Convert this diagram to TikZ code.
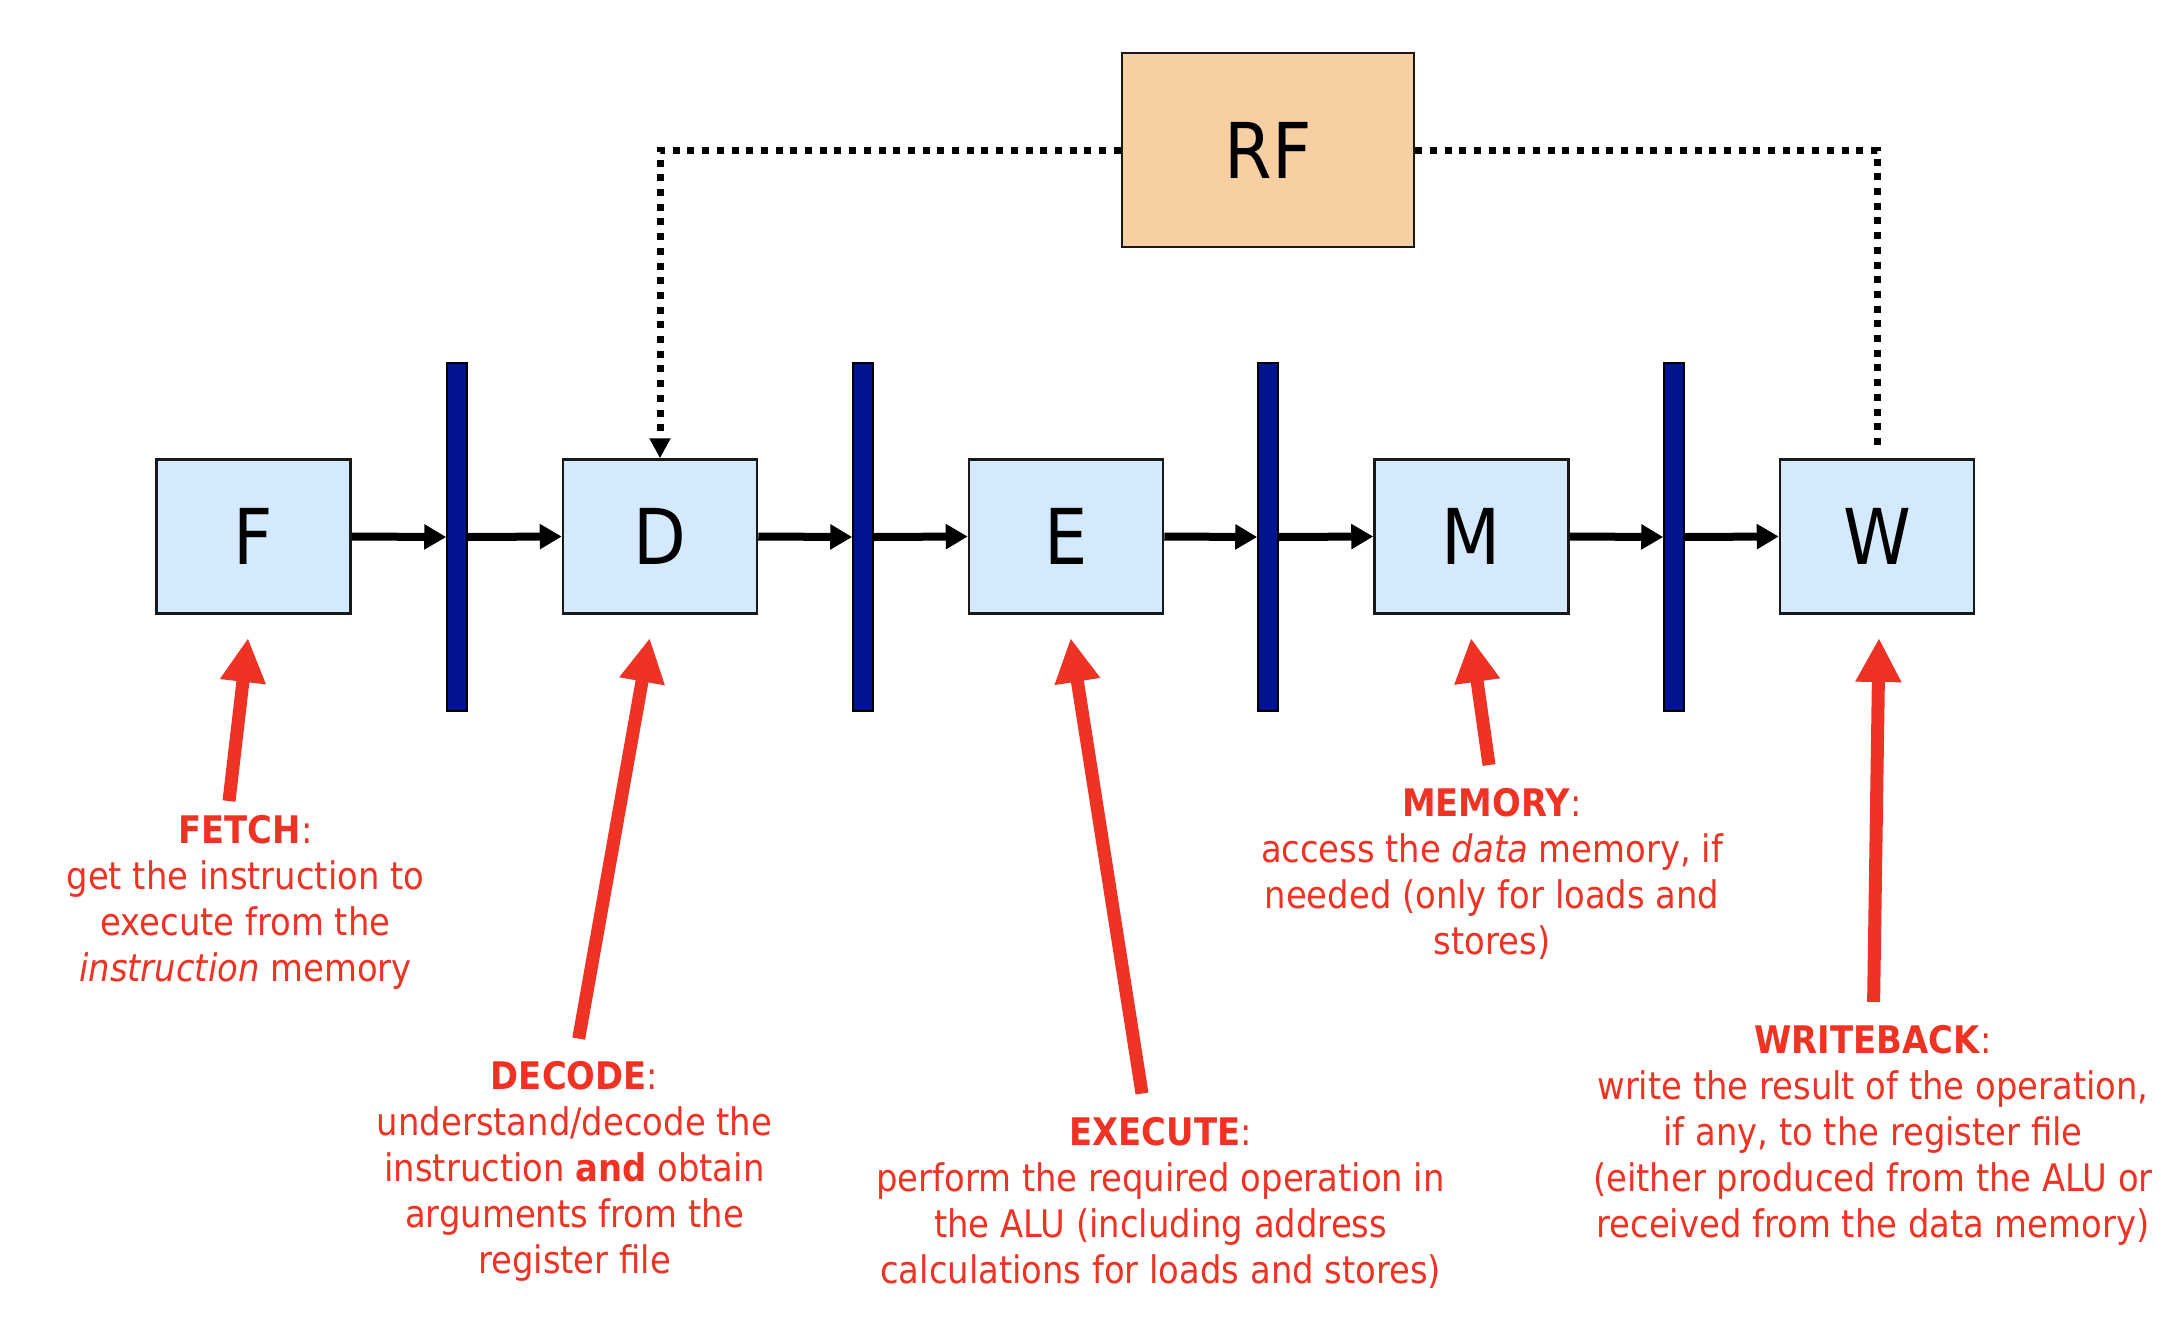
\documentclass[tikz,border=0pt]{standalone}
\usepackage{fontspec}
\setmainfont{DejaVu Sans}[FakeStretch=0.89]
\usetikzlibrary{arrows.meta,positioning}
\definecolor{boxblue}{RGB}{212,234,252}
\definecolor{rffill}{RGB}{248,207,162}
\definecolor{barblue}{RGB}{0,19,145}
\definecolor{callred}{RGB}{238,51,36}
\tikzset{
 stage/.style={draw=black!90, line width=2.5pt, fill=boxblue, minimum width=194pt, minimum height=154pt, inner sep=0pt, font=\fontsize{77}{80}\selectfont},
 latch/.style={draw=black, line width=1.5pt, fill=barblue, minimum width=20pt, minimum height=348pt, inner sep=0pt},
 flow/.style={line width=8pt, -{Triangle[length=22pt,width=24pt]}},
 rfwire/.style={line width=7pt, dash pattern=on 7pt off 7.7pt},
 callout/.style={line width=13pt, draw=callred, -{Triangle[length=44pt,width=43pt]}},
 desc/.style={text=callred, align=center, anchor=north, inner sep=0pt, font=\fontsize{38}{46}\selectfont},
}
\begin{document}
\begin{tikzpicture}[x=1pt,y=-1pt]
\useasboundingbox[fill=white] (0,0) rectangle (2170,1328);
% stages
\node[stage] (F) at (253.5,536.5) {F};
\node[stage] (D) at (660,536.5) {D};
\node[stage] (E) at (1066,536.5) {E};
\node[stage] (M) at (1471.5,536.5) {M};
\node[stage] (W) at (1877,536.5) {W};
\node[stage, fill=rffill, minimum width=292pt, minimum height=194pt] (RF) at (1268,150) {RF};
% pipeline latches
\node[latch] (b1) at (457,537) {};
\node[latch] (b2) at (863,537) {};
\node[latch] (b3) at (1268,537) {};
\node[latch] (b4) at (1674,537) {};
% flow arrows
\draw[flow] (F.east) -- (b1.west);
\draw[flow] (b1.east) -- (D.west);
\draw[flow] (D.east) -- (b2.west);
\draw[flow] (b2.east) -- (E.west);
\draw[flow] (E.east) -- (b3.west);
\draw[flow] (b3.east) -- (M.west);
\draw[flow] (M.east) -- (b4.west);
\draw[flow] (b4.east) -- (W.west);
% register file wires
\coordinate (wtop) at ([yshift=10pt]W.north);
\draw[rfwire, -{Triangle[length=20pt,width=20pt]}] (RF.west) -| (D.north);
\draw[rfwire] (RF.east) -| (wtop);
% callout coordinates
\coordinate (tF) at (248,638);
\coordinate (sF) at (229,801);
\coordinate (tD) at (649.7,638);
\coordinate (sD) at (578.7,1038.6);
\coordinate (tE) at (1070.6,638);
\coordinate (sE) at (1142,1093.5);
\coordinate (tM) at (1471,638);
\coordinate (sM) at (1489,765);
\coordinate (tW) at (1879,638);
\coordinate (sW) at (1873.6,1002);
\draw[callout] (sF) -- (tF);
\draw[callout] (sD) -- (tD);
\draw[callout] (sE) -- (tE);
\draw[callout] (sM) -- (tM);
\draw[callout] (sW) -- (tW);
% descriptions
\node[desc] (fetch) at (245.5,815) {\textbf{FETCH}:\\get the instruction to\\execute from the\\\textit{instruction} memory};
\node[desc] (decode) at (574.5,1061) {\textbf{DECODE}:\\understand/decode the\\instruction \textbf{and} obtain\\arguments from the\\register file};
\node[desc] (execute) at (1160.6,1117) {\textbf{EXECUTE}:\\perform the required operation in\\the ALU (including address\\calculations for loads and stores)};
\node[desc] (memory) at (1492,788) {\textbf{MEMORY}:\\access the \textit{data} memory, if\\needed (only for loads and\\stores)};
\node[desc] (writeback) at (1873,1025) {\textbf{WRITEBACK}:\\write the result of the operation,\\if any, to the register file\\(either produced from the ALU or\\received from the data memory)};
\end{tikzpicture}
\end{document}
